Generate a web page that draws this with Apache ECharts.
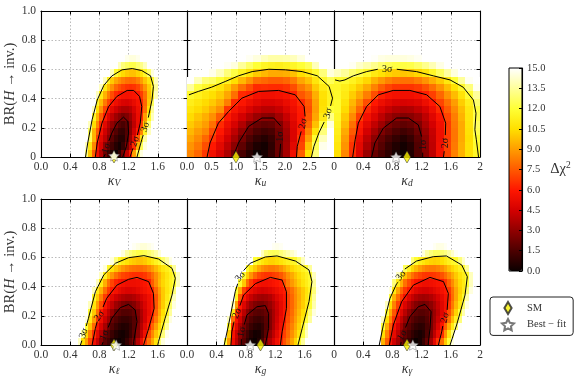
<!DOCTYPE html>
<html lang="en">
<head>
<meta charset="UTF-8">
<title>BR(H to inv.) scans</title>
<script src="https://cdn.jsdelivr.net/npm/echarts@6/dist/echarts.min.js"></script>
<style>
    html, body { margin: 0; background: #fff; }
    #main { width: 581px; height: 381px; }
</style>
</head>
<body>
<div id="main"></div>
<script>
    // each heat row: [first kappa of the row, delta chi2 per cell...], from BR = 0 upward in steps of 0.05
    const brStep = 0.05;
    const kvRows = [
        [0.60,13,10,7.5,5.5,3.8,2.2,1.2,0.4,0,0.8,2.4,4,6,9,12.5,14.5],
        [0.60,14,11,8.5,6,4.6,3,2,1.2,0.6,0.2,0.9,2.4,4,6.5,9.5,12.5,14.5],
        [0.60,15,12.5,9.5,6.8,5,4,2.8,1.8,1.1,0.6,0.6,1.7,3.3,5.2,7.6,10.8,13.5,15],
        [0.65,12.5,9.5,7.5,5.6,4.4,3.4,2.4,1.6,1,0.9,1.6,2.9,4.4,6,8.5,11.5,14],
        [0.65,14,10.5,8.5,6.5,5,3.9,3,2.4,1.7,1.4,1.8,2.8,4,5.3,7,10,13,15],
        [0.70,11.5,9.5,7.5,6,4.8,4,3.3,2.8,2.4,2.6,3.2,4.2,5.3,6.5,9,11.8,14],
        [0.70,14,10.5,8.7,7,5.8,5,4.4,3.9,3.6,3.6,3.9,4.6,5.4,6.2,8,10.5,13.5],
        [0.75,11.5,9.7,8.2,7,6,5.4,5,4.7,4.6,4.8,5.2,5.7,6.3,7.8,10,12.5,15],
        [0.75,14,11,9.5,8.3,7.2,6.4,6,5.7,5.6,5.7,5.8,6,6.8,8,9.8,11.5,14],
        [0.80,14,11,9.7,8.7,7.8,7.3,6.9,6.6,6.5,6.6,7,7.8,8.8,10,11.5,13.5],
        [0.85,14,11.2,10,9.2,8.7,8.3,8,7.9,8,8.4,9,9.9,10.8,11.8,14],
        [0.95,14,11.8,11,10.4,10,9.8,9.8,10.2,10.8,11.6,12.8,14.5],
        [1.05,14,13,12.6,12.3,12.3,12.8,13.2,14],
        [1.15,14.7,14.5,14.5,14.7]
    ];
    const kuRows = [
        [0,8.5,7.8,6.7,5.5,4.6,3.6,2.2,1.4,0.6,0,0.3,1,2.2,3.5,5.5,7.6,10.5,13,15,15],
        [0,8.8,8.2,7.2,6,5,4,2.9,1.9,1,0.4,0.2,0.8,2.1,3.4,5,7,9.8,12.5,14.7,15],
        [0,9.2,8.6,7.8,6.6,5.5,4.5,3.5,2.4,1.5,0.9,0.6,1,2.1,3.3,4.7,6.7,9,11.9,14,15],
        [0,9.6,9,8.5,7.2,6,5,4,3,2.1,1.5,1.2,1.4,2.3,3.4,4.7,6.2,8.4,10.7,13,15],
        [0,10,9.5,9,8,6.4,5.4,4.6,3.7,2.7,2.1,1.9,2,2.6,3.7,4.8,5.9,7.8,9.8,12.2,14.5],
        [0,10.4,9.9,9.4,8.7,7.6,6,5.2,4.5,3.8,3.2,2.9,2.8,3.4,4.2,5.1,6,7.4,9.2,11,13.2],
        [0,10.8,10.4,10,9.4,8.7,6.7,5.8,5.3,4.7,4.2,3.9,3.9,4.2,4.8,5.4,6.1,7.2,9,10.6,12],
        [0,11.2,10.8,10.4,10,9.4,8.3,6.4,5.9,5.4,5,4.7,4.7,4.9,5.3,5.7,6.4,7.4,9.1,10.5,11.4],
        [0,11.7,11.3,10.9,10.5,10,9.2,8,6.4,6.2,5.6,5.5,5.5,5.6,5.8,6.2,7.4,8,9.4,10.6,11.4],
        [0,13.5,12.2,11.6,11.2,10.7,10,9,8,7.2,6.4,6.5,6.4,6.4,6.6,7.2,8.2,8.8,10,11,11.6],
        [0,15,14,13,12.7,12,11.3,10.5,9.6,8.8,8,7.8,7.6,7.6,7.8,8.3,9.2,9.8,10.8,11.6,12.5],
        [0.30,15,14.7,14,13,12.2,11.4,10.7,10,9.6,9.3,9.3,9.4,9.8,10.5,11,11.8,13,14.5],
        [0.75,14.8,14.5,13.5,12.7,12,11.5,11.3,11.2,11.4,11.6,12,12.5,14,15],
        [1.20,14.8,14.5,14,13.7,13.7,13.8,14,14.5,15]
    ];
    const kdRows = [
        [0,10.5,8.5,6.5,4.8,3.2,2.1,1.4,0.8,0.2,0,0.5,1.6,2.8,4,5.6,7,8.4,9.5,10.6,11.6],
        [0,10.8,8.8,6.6,5,3.6,2.5,1.7,1,0.5,0.2,0.6,1.6,2.8,4,5.5,6.9,8.2,9.4,10.6,11.8],
        [0,11,9,7,5.3,4,2.9,2,1.4,0.9,0.6,1,1.8,2.9,4.1,5.4,6.8,8.1,9.3,10.5,12],
        [0,11.2,9.3,7.5,5.8,4.5,3.5,2.6,2,1.5,1.2,1.5,2.2,3.2,4.2,5.4,6.8,8.1,9.3,10.6,12.4],
        [0,11.4,9.7,8,6.1,5,4.1,3.3,2.5,2.1,1.9,2.1,2.6,3.6,4.5,5.5,6.8,8.2,9.3,10.7,12.6],
        [0,11.6,10,8.6,6.9,5.6,4.8,4,3.3,2.9,2.7,2.8,3.2,4,4.9,5.8,7,8.3,9.5,10.8,12.3],
        [0,11.8,10.4,9.2,7.8,6.3,5.4,4.7,4.2,3.8,3.6,3.7,4.1,4.6,5.4,6.4,7.5,8.6,9.7,10.9,12.2],
        [0,11.8,10.7,9.6,8.5,7.2,6,5.4,5,4.7,4.6,4.7,4.9,5.4,6,7,8,9,10.1,11.2,12.8],
        [0,11.7,11,10.1,9.3,8.3,7.2,6.2,5.8,5.6,5.5,5.5,5.7,6.2,6.9,7.8,8.8,9.7,10.7,11.9,13.5],
        [0,11.6,11.2,10.7,10,9.3,8.4,7.6,7,6.7,6.6,6.6,6.8,7.3,8,8.8,9.7,10.6,11.6,13,14.8],
        [0,11.8,11.8,11.4,10.9,10.3,9.5,8.9,8.4,8.1,8,8,8.3,8.8,9.4,10,10.9,12,13.5,14.8,15],
        [0,14,13.5,12.8,12.3,11.7,11,10.6,10.2,10,9.9,10,10.3,10.8,11.6,12.6,13.6,14.5],
        [0.10,15,14.8,14.2,13.8,13.3,12.8,12.4,12.2,12.2,12.3,12.7,13.3,13.9,14.6],
        [0.50,14.9,14.6,14.5,14.5,14.5,14.6,14.8]
    ];
    const klRows = [
        [0.50,14,10.5,9,7,5.5,4.2,2.8,1.8,1.2,0.6,0.2,0,0.3,0.9,1.7,2.5,3.8,5.2,6.8,8,9.3,10.8,13,14.5],
        [0.55,13.5,10.3,8.3,6.5,5,3.8,2.4,1.7,1.1,0.6,0.3,0.2,0.5,1.1,1.9,2.9,4.1,5.5,7.2,8.5,9.8,11,13,14.7],
        [0.60,12,9.8,7.8,5.9,4.6,3.5,2.3,1.6,1.1,0.7,0.5,0.6,1,1.7,2.7,3.8,5,6.2,7.7,9,10.3,11.6,13.5,15],
        [0.60,14.5,11,9,6.8,5.4,4.3,3.3,2.1,1.6,1.2,1,1,1.2,1.7,2.5,3.5,4.5,5.6,6.8,8.2,9.6,10.9,12.7,14.5],
        [0.65,11.8,10,8,6.1,5,4,3.1,2.2,1.9,1.6,1.6,1.7,2,2.7,3.6,4.5,5.3,6.1,7.7,9.2,10.5,11.7,13.5,15],
        [0.65,14,10.8,9,7.2,5.8,4.9,4.1,3.3,2.9,2.5,2.3,2.4,2.7,3.3,4,4.7,5.4,6,7.4,8.9,10.1,11.3,12.8,14.5],
        [0.70,11.6,10,8.3,6.8,5.7,5,4.4,4,3.7,3.5,3.5,3.7,4.1,4.6,5,5.5,6,7.3,8.8,10,11,11.8,14],
        [0.70,14,11,9.5,8,6.8,6,5.6,5.2,4.9,4.7,4.7,4.8,5.1,5.4,5.7,6,6.3,7.8,9,10,10.8,11.3,13,15],
        [0.75,14,11,9.4,8,7,6.3,5.9,5.6,5.4,5.4,5.4,5.5,5.7,5.9,6.2,7.5,8.6,9.6,10.3,10.9,11.4,11.9,14],
        [0.80,14,11.3,9.8,8.8,8,7.4,7,6.8,6.6,6.5,6.5,6.5,6.7,7.2,7.9,8.7,9.5,10.2,10.8,11.3,11.8,14],
        [0.85,14.5,11.6,10.6,9.9,9.3,8.8,8.4,8.1,8,7.9,7.9,8.1,8.5,9,9.6,10.2,10.8,11.2,11.6,13.5,15],
        [0.95,14.5,13,11.5,11,10.6,10.2,10,9.8,9.8,10,10.4,10.9,11.4,11.9,12.8,13.7,14.6],
        [1.10,14.5,13.6,13,12.6,12.3,12.2,12.4,12.8,13.2,13.7,14.4],
        [1.25,14.8,14.6,14.4,14.4,14.6,14.8]
    ];
    const kgRows = [
        [0.50,12,9,5.5,4,2.7,1.7,0.8,0.2,0,0.5,1.3,2.7,3.7,4.6,5.5,6.3,7.3,8.2,9.2,10.3,11.9,13.5,15],
        [0.50,15,10,5.8,4.3,3,2,1.2,0.6,0.2,0.3,0.9,1.9,3.1,4,5,5.9,6.9,7.8,8.7,9.6,10.7,12.2,14],
        [0.55,11.7,6.6,5,3.6,2.5,1.7,1.1,0.7,0.6,0.9,1.7,2.6,3.6,4.6,5.5,6.5,7.5,8.4,9.3,10.2,11.7,13.5,15],
        [0.55,14,8,5.8,4.4,3.1,2.2,1.6,1.2,1.1,1.3,1.8,2.6,3.5,4.4,5.3,6.1,7.2,8.1,9,9.9,10.8,12,13.5,15],
        [0.60,11,6.9,5.2,3.9,2.9,2.2,1.8,1.7,1.8,2.1,2.7,3.5,4.3,5.1,5.9,7,7.9,8.8,9.6,10.5,11.4,13,14.5],
        [0.60,14,9,6,4.8,3.8,3.1,2.6,2.4,2.4,2.7,3.1,3.7,4.4,5.1,5.8,6.9,7.8,8.6,9.4,10.1,11,12,13.8,15],
        [0.65,11.5,7.5,5.9,4.9,4.2,3.7,3.4,3.3,3.4,3.7,4.2,4.8,5.3,5.9,6.9,7.8,8.6,9.3,10,10.8,11.8,13.5,15],
        [0.65,12,9.3,7,6,5.3,4.9,4.6,4.5,4.6,4.8,5.1,5.4,5.8,6.1,7.2,8,8.7,9.4,10,10.7,11.4,13,14.8],
        [0.70,11.8,10,8,6.8,6,5.6,5.5,5.5,5.6,5.8,6,6.2,7.3,8.2,8.9,9.5,10.1,10.7,11.2,11.7,13.5,15],
        [0.75,11.8,10,8.8,7.8,7.1,6.8,6.6,6.6,6.8,7,7.4,8,8.7,9.3,9.9,10.4,10.9,11.3,11.8,14],
        [0.80,11.8,10.8,10,9.2,8.7,8.4,8.2,8.2,8.4,8.8,9.3,9.8,10.3,10.7,11,11.4,11.8,13.5,15],
        [0.90,12,11.3,10.8,10.4,10.2,10.2,10.4,10.7,11,11.3,11.5,11.7,12.8,14,15],
        [1.00,14,13,12.6,12.5,12.6,13,13.4,13.8,14.2,14.6],
        [1.15,14.8,14.7,14.8]
    ];
    const kpRows = [
        [0.60,15,9.5,7.6,5.8,4.4,3.4,2.3,1.5,0.9,0.4,0,0.3,1,2,3.4,5,6.6,8,10,12,14.5],
        [0.60,15,10.5,8.4,6.7,5.2,4,2.8,2,1.4,0.9,0.5,0.3,0.6,1.5,2.7,4,5.3,6.5,8.7,10.8,13,15],
        [0.65,12,9.4,7.4,5.7,4.5,3.4,2.3,1.8,1.3,0.9,0.7,0.8,1.4,2.4,3.5,4.7,5.9,7.6,9.3,11,12.8,14.8],
        [0.65,14,10.5,8.4,6.6,5.2,4.1,3.1,2.3,1.8,1.4,1.2,1.2,1.6,2.4,3.3,4.3,5.3,6.4,8,9.7,11.3,13,15],
        [0.70,12,9.3,7.4,6,4.9,3.9,3,2.3,1.9,1.7,1.7,1.9,2.5,3.2,4,4.9,5.8,7.2,8.7,10.2,12,13.8],
        [0.70,14,10.5,8.4,6.9,5.7,4.7,3.9,3.2,2.7,2.4,2.3,2.5,2.9,3.5,4.2,4.9,5.6,6.7,8.2,9.6,10.9,12.7,14.5],
        [0.75,12,9.5,8,6.7,5.6,4.8,4.2,3.7,3.4,3.3,3.4,3.7,4.1,4.6,5.1,5.7,6.4,7.9,9.2,10.4,11.7,13.7],
        [0.75,14.5,11,9.2,7.8,6.7,6,5.4,4.9,4.6,4.5,4.5,4.7,5,5.3,5.6,6,6.7,8,9.2,10.2,11.1,12.8,14.5],
        [0.80,13,11,9.4,8,7.1,6.4,5.9,5.6,5.4,5.4,5.5,5.6,5.8,6,6.6,7.6,8.6,9.6,10.4,11,12,14],
        [0.85,14,11.5,9.8,8.8,8,7.4,7,6.7,6.6,6.6,6.7,6.9,7.3,7.9,8.6,9.3,10,10.7,11.2,11.7,14],
        [0.95,12.5,11.4,10.3,9.6,9,8.6,8.3,8.2,8.2,8.4,8.7,9.2,9.8,10.3,10.8,11.3,11.7,13.5,15],
        [1.05,13,11.9,11.2,10.8,10.4,10.2,10.1,10.2,10.5,10.9,11.3,11.6,11.8,13,14.2],
        [1.20,14.5,13.6,13,12.6,12.6,12.8,13.1,13.6,14.2,14.8],
        [1.35,14.8,14.6,14.6,14.8]
    ];

    // contour lines as [kappa, BR]; GAP leaves room for the inline label
    const GAP = ['-', '-'];
    const kvContours = [
        [[0.86,0],[0.88,0.02],GAP,[0.93,0.11],[0.97,0.164],[1.04,0.232],[1.13,0.273],[1.19,0.244],[1.2,0.164],[1.17,0.073],[1.12,0]],
        [[0.744,0],[0.77,0.096],[0.835,0.232],[0.927,0.346],[1.04,0.415],[1.18,0.456],[1.27,0.456],[1.35,0.415],[1.38,0.346],[1.36,0.232],[1.32,0.15],GAP,[1.26,0.06],[1.22,0]],
        [[0.61,0],[0.64,0.096],[0.70,0.255],[0.77,0.39],[0.86,0.49],[0.97,0.555],[1.11,0.597],[1.25,0.606],[1.38,0.592],[1.50,0.556],[1.54,0.483],[1.52,0.39],[1.47,0.27],GAP,[1.40,0.15],[1.38,0.118],[1.315,0]]
    ];
    const kuContours = [
        [[0.94,0],[1.05,0.096],[1.26,0.21],[1.53,0.267],[1.77,0.267],[1.91,0.214],GAP,[1.91,0.09],[1.89,0]],
        [[0.41,0],[0.47,0.096],[0.64,0.232],[0.85,0.312],[1.12,0.403],[1.46,0.449],[1.87,0.456],[2.21,0.426],[2.39,0.346],[2.41,0.278],GAP,[2.33,0.175],[2.25,0.073],[2.235,0]],
        [[0.04,0.426],[0.23,0.449],[0.5,0.478],[0.78,0.517],[1.05,0.556],[1.33,0.585],[1.67,0.601],[2.01,0.597],[2.35,0.585],[2.66,0.556],[2.9,0.483],[2.97,0.403],[2.93,0.35],GAP,[2.8,0.24],[2.69,0.164],[2.59,0.073],[2.54,0]]
    ];
    const kdContours = [
        [[0.516,0],[0.56,0.096],[0.676,0.198],[0.858,0.267],[1.02,0.267],[1.155,0.22],[1.2,0.14],GAP,[1.215,0.03],[1.215,0]],
        [[0.256,0],[0.29,0.118],[0.333,0.232],[0.447,0.346],[0.607,0.426],[0.81,0.456],[1.04,0.456],[1.27,0.426],[1.45,0.346],[1.53,0.232],[1.525,0.15],GAP,[1.51,0.04],[1.5,0]],
        [[0.014,0.528],[0.08,0.52],[0.15,0.528],[0.265,0.556],[0.447,0.585],[0.6,0.601],GAP,[0.86,0.601],[1.13,0.585],[1.36,0.556],[1.59,0.528],[1.77,0.478],[1.91,0.39],[1.945,0.30],[1.93,0.187],[1.95,0.118],[1.98,0]]
    ];
    const klContours = [
        [[0.835,0],[0.85,0.02],GAP,[0.92,0.12],[0.97,0.183],[1.087,0.256],[1.2,0.278],[1.29,0.24],[1.315,0.16],[1.27,0.023],[1.27,0]],
        [[0.70,0],[0.745,0.114],[0.77,0.16],GAP,[0.85,0.26],[0.90,0.32],[1.04,0.41],[1.2,0.45],[1.315,0.463],[1.475,0.434],[1.54,0.354],[1.55,0.25],[1.475,0.114],[1.406,0]],
        [[0.54,0],[0.56,0.03],GAP,[0.62,0.13],[0.65,0.183],[0.745,0.365],[0.86,0.48],[1.02,0.56],[1.2,0.598],[1.41,0.612],[1.61,0.589],[1.795,0.525],[1.84,0.457],[1.795,0.342],[1.70,0.183],[1.61,0.023],[1.6,0]]
    ];
    const kgContours = [
        [[0.738,0],[0.74,0.04],GAP,[0.78,0.14],[0.815,0.205],[0.952,0.262],[1.066,0.27],[1.11,0.217],[1.11,0.114],[1.066,0]],
        [[0.597,0],[0.61,0.09],[0.64,0.16],GAP,[0.72,0.27],[0.77,0.342],[0.93,0.42],[1.134,0.463],[1.294,0.445],[1.353,0.365],[1.353,0.25],[1.294,0.09],[1.27,0]],
        [[0.506,0],[0.565,0.137],[0.656,0.365],[0.69,0.42],GAP,[0.77,0.51],[0.86,0.56],[1.066,0.603],[1.225,0.61],[1.476,0.575],[1.66,0.514],[1.70,0.434],[1.66,0.297],[1.567,0.114],[1.51,0]]
    ];
    const kpContours = [
        [[0.913,0],[0.92,0.02],GAP,[0.98,0.12],[1.04,0.194],[1.155,0.262],[1.247,0.278],[1.33,0.228],[1.315,0.114],[1.29,0]],
        [[0.758,0],[0.813,0.137],[0.927,0.297],[1.087,0.41],[1.315,0.463],[1.5,0.434],[1.566,0.354],[1.55,0.24],GAP,[1.49,0.13],[1.475,0.09],[1.43,0]],
        [[0.62,0],[0.676,0.137],[0.767,0.32],[0.858,0.42],[0.88,0.43],GAP,[0.97,0.52],[1.13,0.575],[1.36,0.605],[1.54,0.61],[1.75,0.548],[1.826,0.468],[1.795,0.342],[1.68,0.137],[1.59,0]]
    ];

    // inline contour labels: [kappa, BR, text]
    const kvLabels = [[0.895,0.06,'1σ'],[1.29,0.107,'2σ'],[1.43,0.205,'3σ']];
    const kuLabels = [[1.91,0.14,'1σ'],[2.37,0.228,'2σ'],[2.88,0.30,'3σ']];
    const kdLabels = [[1.22,0.084,'1σ'],[1.52,0.096,'2σ'],[0.73,0.60,'3σ']];
    const klLabels = [[0.87,0.068,'1σ'],[0.80,0.20,'2σ'],[0.585,0.08,'3σ']];
    const kgLabels = [[0.747,0.09,'1σ'],[0.68,0.217,'2σ'],[0.725,0.468,'3σ']];
    const kpLabels = [[0.936,0.068,'1σ'],[1.52,0.187,'2σ'],[0.918,0.475,'3σ']];

    const smPoint = [1, 0];
    const bestFit = [[1.0,0.008],[1.43,0],[0.85,0],[1.03,0],[0.86,0],[1.08,0]];

    const kappaNames = ['V', 'u', 'd', 'ℓ', 'g', 'γ'];
    const xLabels20 = ['0.0','0.4','0.8','1.2','1.6',''];
    const xLabels20End = ['0','0.4','0.8','1.2','1.6','2'];
    const xLabels30 = ['0.0','0.5','1.0','1.5','2.0','2.5',''];
    const yLabelsTop = ['0','0.2','0.4','0.6','0.8','1.0'];
    const yLabelsBottom = ['0.0','0.2','0.4','0.6','0.8','1.0'];
    const colorbarMax = 15;
    const hotStops = ['#0b0000','#4d0000','#910000','#d40000','#ff1700','#ff5a00','#ff9d00','#ffe000','#ffff36','#ffff9a','#ffffff'];

    const FONT = '"Liberation Serif", serif';
    const TEXT = '#333';
    const STAR = 'path://M0,-10 L2.9,-4 L9.51,-3.09 L4.7,1.53 L5.88,8.09 L0,5 L-5.88,8.09 L-4.7,1.53 L-9.51,-3.09 L-2.9,-4 Z';
    const DIAMOND = 'path://M0,-10 L6,0 L0,10 L-6,0 Z';

    const panels = [
        {left: 41,  top: 11,  width: 146, max: 2, interval: 0.4, step: 0.05, rows: kvRows, contours: kvContours, labels: kvLabels, angles: [72,72,72],  xl: xLabels20,    yl: yLabelsTop},
        {left: 187, top: 11,  width: 147, max: 3, interval: 0.5, step: 0.15, rows: kuRows, contours: kuContours, labels: kuLabels, angles: [90,80,75],  xl: xLabels30,    yl: null},
        {left: 334, top: 11,  width: 146, max: 2, interval: 0.4, step: 0.1,  rows: kdRows, contours: kdContours, labels: kdLabels, angles: [90,90,0],   xl: xLabels20End, yl: null},
        {left: 41,  top: 199, width: 146, max: 2, interval: 0.4, step: 0.05, rows: klRows, contours: klContours, labels: klLabels, angles: [70,55,70],  xl: xLabels20,    yl: yLabelsBottom},
        {left: 187, top: 199, width: 147, max: 2, interval: 0.4, step: 0.05, rows: kgRows, contours: kgContours, labels: kgLabels, angles: [80,65,50],  xl: xLabels20,    yl: null},
        {left: 334, top: 199, width: 146, max: 2, interval: 0.4, step: 0.05, rows: kpRows, contours: kpContours, labels: kpLabels, angles: [60,75,50],  xl: xLabels20End, yl: null}
    ];

    const grids = [], xAxes = [], yAxes = [], series = [], heatIndexes = [];
    const ticks = {show: true, inside: true, length: 3.5, lineStyle: {color: '#000', width: 1}};
    const line = {show: true, onZero: false, lineStyle: {color: '#000', width: 1.1}};
    const dotted = {show: true, lineStyle: {color: '#bbb', type: [1.5, 2], width: 1}};
    const labelStyle = {fontFamily: FONT, fontSize: 11.5, color: TEXT};

    panels.forEach((p, i) => {
        grids.push({left: p.left, top: p.top, width: p.width, height: 146, outerBoundsMode: 'none'});
        xAxes.push({
            type: 'value', gridIndex: i, position: 'bottom', min: 0, max: p.max, interval: p.interval,
            axisLine: line, axisTick: ticks, splitLine: dotted,
            axisLabel: {...labelStyle, margin: 4, showMaxLabel: true, hideOverlap: false,
                formatter: v => p.xl[Math.round(v / p.interval)]},
            name: '{k|κ}{s|' + kappaNames[i] + '}', nameLocation: 'middle', nameGap: 15,
            nameTextStyle: {rich: {
                k: {fontFamily: FONT, fontStyle: 'italic', fontSize: 14, color: TEXT, lineHeight: 16},
                s: {fontFamily: FONT, fontStyle: 'italic', fontSize: 9.5, color: TEXT, verticalAlign: 'bottom', lineHeight: 12}
            }}
        });
        xAxes.push({
            type: 'value', gridIndex: i, position: 'top', min: 0, max: p.max, interval: p.interval,
            axisLine: line, axisTick: ticks, splitLine: {show: false}, axisLabel: {show: false}
        });
        const leftY = {
            type: 'value', gridIndex: i, position: 'left', min: 0, max: 1, interval: 0.2,
            axisLine: line, axisTick: ticks, splitLine: dotted,
            axisLabel: p.yl ? {...labelStyle, margin: 5, formatter: v => p.yl[Math.round(v / 0.2)]} : {show: false}
        };
        if (p.yl) {
            leftY.name = '{r|BR(}{h|H}{r| → inv.)}';
            leftY.nameLocation = 'middle';
            leftY.nameGap = 23;
            leftY.nameTextStyle = {rich: {
                r: {fontFamily: FONT, fontSize: 14.5, color: TEXT},
                h: {fontFamily: FONT, fontSize: 14.5, fontStyle: 'italic', color: TEXT}
            }};
        }
        yAxes.push(leftY);
        yAxes.push({
            type: 'value', gridIndex: i, position: 'right', min: 0, max: 1, interval: 0.2,
            axisLine: line, axisTick: ticks, splitLine: {show: false}, axisLabel: {show: false}
        });

        const xi = i * 2, yi = i * 2;
        const cells = [];
        p.rows.forEach((row, j) => {
            row.slice(1).forEach((v, k) => cells.push([row[0] + k * p.step, j * brStep, v]));
        });
        heatIndexes.push(series.length);
        series.push({
            type: 'custom', xAxisIndex: xi, yAxisIndex: yi, clip: true, data: cells,
            encode: {x: 0, y: 1},
            renderItem: (params, api) => {
                const a = api.coord([api.value(0), api.value(1)]);
                const b = api.coord([api.value(0) + p.step, api.value(1) + brStep]);
                const x0 = Math.round(a[0]), x1 = Math.round(b[0]), y0 = Math.round(b[1]), y1 = Math.round(a[1]);
                return {type: 'rect', shape: {x: x0, y: y0, width: x1 - x0, height: y1 - y0},
                    style: {fill: api.visual('color')}};
            }
        });
        p.contours.forEach(c => series.push({
            type: 'line', xAxisIndex: xi, yAxisIndex: yi, data: c, showSymbol: false, symbol: 'none',
            lineStyle: {color: '#000', width: 1}, connectNulls: false, clip: false, z: 3
        }));
        series.push({
            type: 'scatter', xAxisIndex: xi, yAxisIndex: yi, symbolSize: 1, itemStyle: {opacity: 0}, z: 4,
            data: p.labels.map((l, n) => ({
                value: [l[0], l[1]],
                label: {show: true, position: 'inside', formatter: l[2], rotate: p.angles[n],
                    fontFamily: FONT, fontSize: 10, color: '#111', opacity: 1}
            }))
        });
        series.push({
            name: 'SM', type: 'scatter', xAxisIndex: xi, yAxisIndex: yi, data: [smPoint], clip: false,
            symbol: DIAMOND, symbolSize: 12, symbolKeepAspect: true, z: 5,
            itemStyle: {color: '#f7f000', borderColor: '#222', borderWidth: 0.6}
        });
        series.push({
            name: 'Best − fit', type: 'scatter', xAxisIndex: xi, yAxisIndex: yi, data: [bestFit[i]], clip: false,
            symbol: STAR, symbolSize: 11, symbolKeepAspect: true, z: 6,
            itemStyle: {color: '#fff', borderColor: '#555', borderWidth: 0.5}
        });
    });

    // colour bar axis, the bar itself comes from the visualMap
    grids.push({left: 509, top: 68, width: 13, height: 203, outerBoundsMode: 'none', show: true, borderColor: '#000', borderWidth: 1});
    xAxes.push({type: 'value', gridIndex: 6, min: 0, max: 1, show: false});
    yAxes.push({
        type: 'value', gridIndex: 6, position: 'right', min: 0, max: colorbarMax, interval: 1.5,
        axisLine: line, axisTick: {...ticks, length: 3},
        splitLine: {show: false},
        axisLabel: {...labelStyle, fontSize: 10.5, margin: 5, formatter: v => v.toFixed(1)},
        name: '{a|Δχ}{b|2}', nameLocation: 'middle', nameRotate: 0, nameGap: 28,
        nameTextStyle: {rich: {
            a: {fontFamily: FONT, fontSize: 14.5, color: TEXT, lineHeight: 18},
            b: {fontFamily: FONT, fontSize: 9.5, color: TEXT, verticalAlign: 'top', lineHeight: 12}
        }}
    });
    series.push({type: 'scatter', xAxisIndex: 12, yAxisIndex: 12, data: []});

    const chart = echarts.init(document.getElementById('main'), null, {renderer: 'canvas'});
    chart.setOption({
        backgroundColor: '#fff',
        animation: false,
        grid: grids,
        xAxis: xAxes,
        yAxis: yAxes,
        series: series,
        visualMap: {
            type: 'continuous', min: 0, max: colorbarMax, dimension: 2, seriesIndex: heatIndexes,
            left: 509, top: 68, itemWidth: 13, itemHeight: 203, padding: 0,
            calculable: false, hoverLink: false, text: null, showLabel: false, z: -1,
            inRange: {color: hotStops}
        },
        legend: {
            orient: 'vertical', left: 490, top: 297, padding: [4, 7, 4, 11], itemGap: 3,
            itemWidth: 12, itemHeight: 12, borderColor: '#222', borderWidth: 1, borderRadius: 3,
            data: ['SM', 'Best − fit'],
            textStyle: {fontFamily: FONT, fontSize: 10.5, color: TEXT, padding: [0, 0, 0, 8]}
        }
    });
</script>
</body>
</html>
